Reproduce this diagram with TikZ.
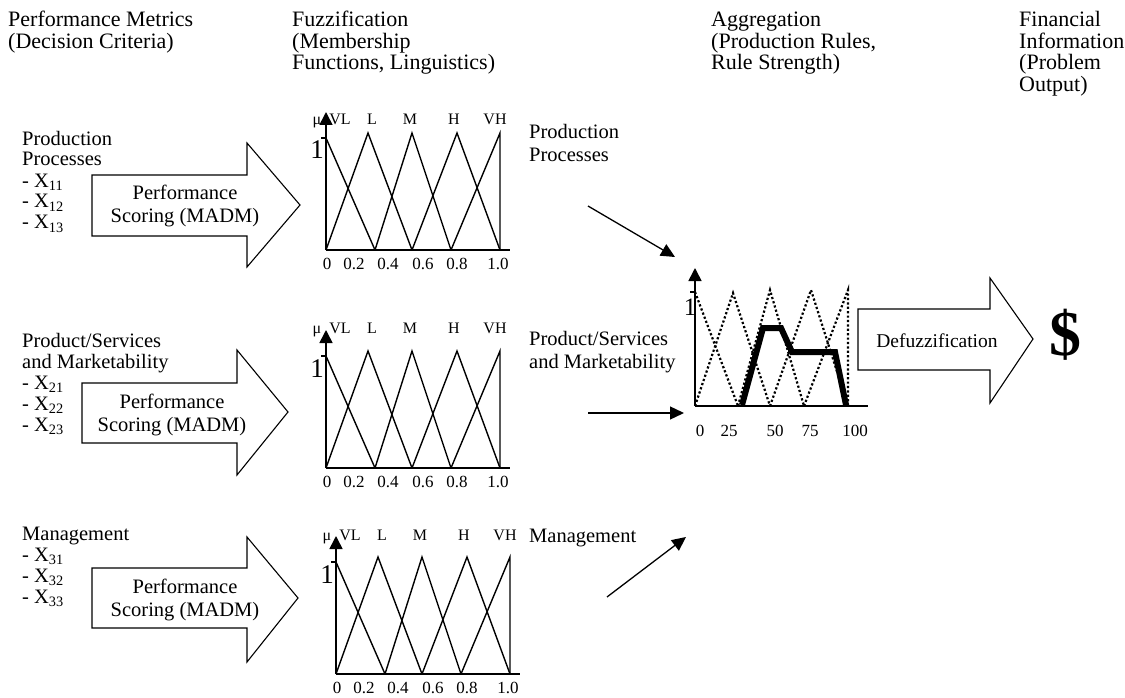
\documentclass[tikz,border=0pt]{standalone}
\usepackage{fontspec}
\setmainfont{Liberation Serif}
\usetikzlibrary{arrows.meta}
\tikzset{
  lbl/.style={font=\fontsize{22}{21.5}\selectfont, inner sep=0pt, align=left, anchor=base west},
  crit/.style={font=\fontsize{20.5}{21}\selectfont, inner sep=0pt, align=left, anchor=base west},
  midlbl/.style={font=\fontsize{20.5}{23}\selectfont, inner sep=0pt, align=left, anchor=base west},
  scoring/.style={font=\fontsize{20.5}{23}\selectfont, inner sep=0pt, align=center},
  small/.style={font=\fontsize{16}{16}\selectfont, inner sep=0pt, anchor=base},
  tick/.style={font=\fontsize{17}{17}\selectfont, inner sep=0pt, anchor=base},
  unit/.style={font=\fontsize{27}{27}\selectfont, inner sep=0pt, anchor=base},
  mf/.style={line width=1.4pt, line join=miter},
  ax/.style={line width=1.6pt},
  axarrow/.style={ax, -{Triangle[length=13pt,width=13pt]}},
  conn/.style={line width=1.3pt, -{Triangle[length=14pt,width=13pt]}},
  blockarrow/.style={line width=1.1pt, line join=miter, fill=white},
  dots/.style={line width=2.2pt, dash pattern=on 2.2pt off 2.2pt},
  aggr/.style={line width=6pt, line join=miter},
}
% membership-function chart: origin x, origin y, label baseline offset, name prefix
\newcommand\mfchart[4]{%
  \begin{scope}[shift={(#1,#2)}]
    \draw[mf] (0,-112) -- (49,0);
    \draw[mf] (0,0) -- (42,-117) -- (86,0);
    \draw[mf] (49,0) -- (86,-117) -- (125,0);
    \draw[mf] (86,0) -- (131,-117) -- (174,0);
    \draw[mf] (125,0) -- (174,-117) -- (174,0);
    \draw[ax] (0,0) -- (184,0);
    \draw[axarrow] (0,0) -- (0,-138);
    \draw[ax] (-5,-112) -- (0,-112);
    \node[unit] (#4-one) at (-9,-91) {1};
    \node[small] (#4-mu) at (-9,#3) {μ};
    \node[small] (#4-vl) at (14,#3) {VL};
    \node[small] (#4-l) at (46,#3) {L};
    \node[small] (#4-m) at (84,#3) {M};
    \node[small] (#4-h) at (128,#3) {H};
    \node[small] (#4-vh) at (169,#3) {VH};
    \node[tick] (#4-t0) at (1,19) {0};
    \node[tick] (#4-t2) at (28,19) {0.2};
    \node[tick] (#4-t4) at (62,19) {0.4};
    \node[tick] (#4-t6) at (97,19) {0.6};
    \node[tick] (#4-t8) at (131,19) {0.8};
    \node[tick] (#4-t10) at (172,19) {1.0};
  \end{scope}}
\begin{document}
\begin{tikzpicture}[x=1pt,y=-1pt]
\useasboundingbox (0,0) rectangle (1125,698);

% column headings (a multi-line node sits on the baseline of its last line)
\node[lbl] (h1) at (8,48.5) {Performance Metrics\\(Decision Criteria)};
\node[lbl] (h2) at (292,70) {Fuzzification\\(Membership\\Functions, Linguistics)};
\node[lbl] (h3) at (711,70) {Aggregation\\(Production Rules,\\Rule Strength)};
\node[lbl] (h4) at (1019,91.5) {Financial\\Information\\(Problem\\Output)};

% decision criteria
\node[crit] (k1) at (22,229) {Production\\Processes\\- X\textsubscript{11}\\- X\textsubscript{12}\\- X\textsubscript{13}};
\node[crit] (k2) at (22,431) {Product/Services\\and Marketability\\- X\textsubscript{21}\\- X\textsubscript{22}\\- X\textsubscript{23}};
\node[crit] (k3) at (22,603) {Management\\- X\textsubscript{31}\\- X\textsubscript{32}\\- X\textsubscript{33}};

% scoring block arrows
\draw[blockarrow] (92,175) -- (247,175) -- (247,143) -- (300,205) -- (247,267) -- (247,236) -- (92,236) -- cycle;
\node[scoring] (s1) at (185,206) {Performance\\Scoring (MADM)};
\draw[blockarrow] (82,383) -- (237,383) -- (237,350) -- (288,412) -- (237,475) -- (237,443) -- (82,443) -- cycle;
\node[scoring] (s2) at (172,415) {Performance\\Scoring (MADM)};
\draw[blockarrow] (92,568) -- (247,568) -- (247,537) -- (298,598) -- (247,662) -- (247,628) -- (92,628) -- cycle;
\node[scoring] (s3) at (185,600) {Performance\\Scoring (MADM)};

% fuzzification charts
\mfchart{326}{250}{-125}{c1}
\mfchart{326}{468}{-135}{c2}
\mfchart{336}{674}{-134}{c3}

% fuzzified inputs
\node[midlbl] (m1) at (529,162) {Production\\Processes};
\node[midlbl] (m2) at (529,368) {Product/Services\\and Marketability};
\node[midlbl] (m3) at (529,542) {Management};
\coordinate (a1s) at (588,206);
\coordinate (a1e) at (675,257);
\coordinate (a2s) at (588,413);
\coordinate (a2e) at (684,413);
\coordinate (a3s) at (607,597);
\coordinate (a3e) at (686,537);
\draw[conn] (a1s) -- (a1e);
\draw[conn] (a2s) -- (a2e);
\draw[conn] (a3s) -- (a3e);

% aggregation chart
\begin{scope}[shift={(695,406)}]
  \draw[dots] (0,-114) -- (43,0);
  \draw[dots] (0,0) -- (38,-113) -- (75,0);
  \draw[dots] (43,0) -- (75,-116) -- (109,0);
  \draw[dots] (75,0) -- (116,-116) -- (153,0);
  \draw[dots] (109,0) -- (153,-116) -- (153,0);
  \draw[aggr] (47,-1) -- (68,-78) -- (86,-78) -- (97,-54) -- (140,-54) -- (151,-1);
  \draw[ax] (0,0) -- (173,0);
  \draw[axarrow] (0,0) -- (0,-138);
  \draw[ax] (-5,-114) -- (0,-114);
  \node[font=\fontsize{25}{25}\selectfont, inner sep=0pt, anchor=base] (g-one) at (-5,-91) {1};
  \node[tick] (g-t0) at (5,30) {0};
  \node[tick] (g-t25) at (34,30) {25};
  \node[tick] (g-t50) at (80,30) {50};
  \node[tick] (g-t75) at (115,30) {75};
  \node[tick] (g-t100) at (160,30) {100};
\end{scope}

% defuzzification
\draw[blockarrow] (858,309) -- (990,309) -- (990,278) -- (1033,339) -- (990,403) -- (990,370) -- (858,370) -- cycle;
\node[font=\fontsize{19.5}{20}\selectfont, inner sep=0pt] (dz) at (937,341) {Defuzzification};
\node[font=\fontsize{64}{64}\selectfont\bfseries, inner sep=0pt] (out) at (1065,335) {\$};
\end{tikzpicture}
\end{document}
